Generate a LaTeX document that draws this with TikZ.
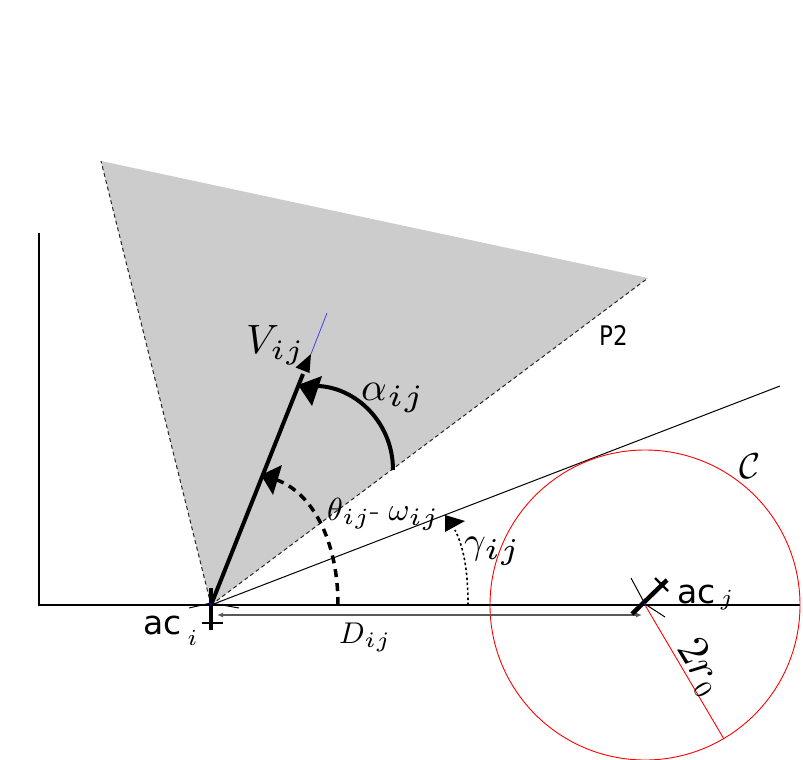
\documentclass[tikz,border=0pt]{standalone}
\usepackage{fontspec}
\DeclareFontShape{OML}{cmm}{m}{it}{<-29.5>cmmi7 <29.5->cmmi10}{}
\DeclareFontShape{OMS}{cmsy}{m}{n}{<->cmsy10}{}
\DeclareFontShape{OT1}{cmr}{m}{n}{<->cmr10}{}
\DeclareFontFamily{OML}{cmmv}{\skewchar\font=127 }
\DeclareFontShape{OML}{cmmv}{m}{it}{<->cmmi5}{}
\DeclareMathAlphabet{\mathfive}{OML}{cmmv}{m}{it}
\newfontfamily\acfont{DejaVu Sans}
\newfontfamily\pfont[FakeStretch=0.85]{DejaVu Sans}
\newcommand\sbx[2]{\mbox{\fontsize{#1}{#1}\selectfont$#2$}}
\newcommand\sfv[2]{\mbox{\fontsize{#1}{#1}\selectfont$\mathfive{#2}$}}
\usetikzlibrary{arrows.meta}
\tikzset{
  tridash/.style={line width=1pt, dash pattern=on 4pt off 3pt, black!85},
  axisline/.style={line width=1.2pt},
  thinline/.style={line width=1pt},
  vecline/.style={line width=4pt},
  alphaarc/.style={line width=4pt},
  thetaarc/.style={line width=3.5pt, dash pattern=on 8pt off 6pt},
  gammaarc/.style={line width=1.6pt, dash pattern=on 2.5pt off 2.5pt},
  head/.style={fill=black},
  redline/.style={red, line width=0.9pt},
  dline/.style={black!65, line width=1.6pt},
  fus/.style={line width=4.5pt},
  tail/.style={line width=2.2pt},
  wing/.style={line width=1pt},
  lab/.style={inner sep=0pt, anchor=base west},
}
\begin{document}
\begin{tikzpicture}[x=1pt,y=-1pt]
\useasboundingbox (0,0) rectangle (803,760);
% key points
\coordinate (O) at (211,605);
\coordinate (J) at (645,605);
\coordinate (A) at (101,161);
\coordinate (B) at (648,278);
\coordinate (Vt) at (311,354);
\coordinate (Bl) at (327,313);
\coordinate (T) at (780,386);
\coordinate (Ya) at (39,233);
\coordinate (Y0) at (39,605);
\coordinate (Xe) at (800,605);
\coordinate (R) at (723.7,738.6);
% shaded cone
\fill[black!20] (O) -- (A) -- (B) -- cycle;
\draw[tridash] (O) -- (A);
\draw[tridash] (O) -- (B);
% axes
\draw[axisline] (Ya) -- (Y0) -- (Xe);
% tangent line
\draw[thinline] (O) -- (T);
% circle
\draw[redline] (J) circle[radius=155];
\draw[redline] (J) -- (R);
% D_ij line
\draw[dline, {Latex[length=6pt,width=5pt]}-{Latex[length=6pt,width=5pt]}] (217,615) -- (642,615);
% theta-omega dashed arc
\draw[thetaarc] (338,605) .. controls (338,540) and (312,493) .. (277,480);
\fill[head] (261,475) -- (282,465) -- (273,495) -- cycle;
% gamma dotted arc
\draw[gammaarc] (468,605) .. controls (468,568) and (463,546) .. (455,530);
\fill[head] (445,515) -- (465,521) -- (445,532) -- cycle;
% V vector
\draw[vecline] (O) -- (303,374);
\fill[head] (Vt) -- (295.5,367.5) -- (309.5,373) -- cycle;
\draw[blue!75, line width=0.8pt] (Vt) -- (Bl);
% alpha arc
\draw[alphaarc] (393,470) .. controls (393,420) and (352,384) .. (312,386);
\fill[head] (298,385) -- (322,376) -- (312,406) -- cycle;
% aircraft i
\draw[fus] (211,588) -- (211,630);
\draw[tail] (202,623) -- (223,623);
\draw[wing] (189,608) -- (211,603) -- (239,608);
\fill[blue] (211,604) circle[radius=1.3];
% aircraft j
\draw[fus] (632,614) -- (667,580);
\draw[tail] (655,578) -- (668,591);
\draw[wing] (631,578) -- (645,604) -- (665,617);
\fill[blue] (645,604) circle[radius=1.3];
% labels
\node[lab, font=\fontsize{33}{33}\selectfont\acfont] (aci) at (143,634) {ac\hspace{6pt}\raisebox{-11pt}{\sbx{23}{i}}};
\node[lab, font=\fontsize{33}{33}\selectfont\acfont] (acj) at (677,603) {ac\hspace{5pt}\raisebox{-2pt}{\sbx{23}{j}}};
\node[lab, font=\fontsize{41}{41}\selectfont] (vl) at (246,353) {$V_{\sfv{28}{ij}}$};
\node[lab, font=\fontsize{40}{40}\selectfont] (al) at (361,400) {$\alpha_{\sfv{31}{ij}}$};
\node[lab, font=\fontsize{32}{32}\selectfont] (tl) at (327,520) {$\theta_{\sfv{23}{ij}}$-\hspace{9pt}$\omega_{\sfv{25}{ij}}$};
\node[lab, font=\fontsize{38}{38}\selectfont] (gl) at (464,553) {$\gamma_{\sfv{30}{ij}}$};
\node[lab, font=\fontsize{30}{30}\selectfont] (dl) at (339,643) {$D_{\sfv{22}{ij}}$};
\node[lab, font=\fontsize{27}{27}\selectfont\pfont] (pl) at (599,345) {P2};
\node[lab, font=\fontsize{36}{36}\selectfont] (cl) at (739,478) {$\mathcal{C}$};
\node[inner sep=0pt, rotate=-59, font=\fontsize{44}{44}\selectfont] (rl) at (700,667) {$2r_{\sbx{26}{0}}$};
\end{tikzpicture}
\end{document}
